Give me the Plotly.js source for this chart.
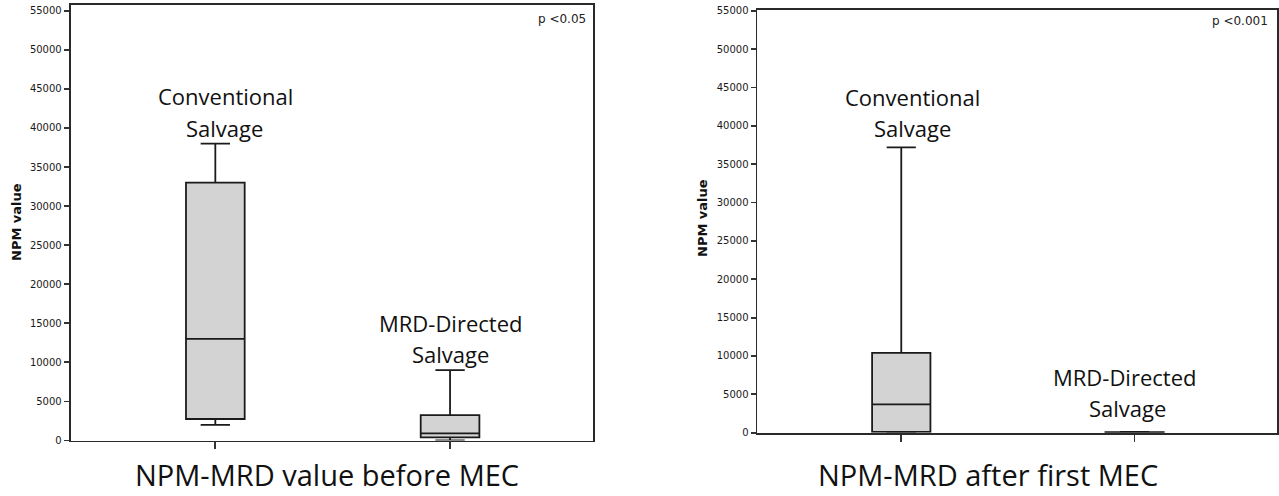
<!DOCTYPE html>
<html>
<head>
<meta charset="utf-8">
<script src="https://cdn.plot.ly/plotly-3.0.1.min.js"></script>
<style>html,body{margin:0;padding:0;background:#fff;}#chart{width:1279px;height:496px;}</style>
</head>
<body>
<div id="chart"></div>
<script>
// ---- data ----
const categories = ['Conventional', 'MRD-Directed'];
const categoryLabelLines = [['Conventional', 'Salvage'], ['MRD-Directed', 'Salvage']];

// Panel 1: NPM-MRD value before MEC
const beforeLowerFence = [2000, 0];
const beforeQ1 = [2750, 400];
const beforeMedian = [13000, 900];
const beforeQ3 = [33000, 3250];
const beforeUpperFence = [38000, 9000];

// Panel 2: NPM-MRD after first MEC
const afterLowerFence = [0, 0];
const afterQ1 = [100, 0];
const afterMedian = [3700, 0];
const afterQ3 = [10400, 80];
const afterUpperFence = [37200, 120];

const panelTitles = ['NPM-MRD value before MEC', 'NPM-MRD after first MEC'];
const pValues = ['p <0.05', 'p <0.001'];
const yTitle = 'NPM value';
const yTickVals = [0, 5000, 10000, 15000, 20000, 25000, 30000, 35000, 40000, 45000, 50000, 55000];

// ---- layout helpers ----
const W = 1279, H = 496;
const px = v => v / W;
const py = v => 1 - v / H;

const boxStyle = {
  type: 'box',
  fillcolor: '#d3d3d3',
  line: {color: '#1a1a1a', width: 1.8},
  width: 0.25,
  whiskerwidth: 0.5,
  boxpoints: false,
  showlegend: false,
  hoverinfo: 'skip'
};

const traces = [
  Object.assign({}, boxStyle, {
    x: categories, q1: beforeQ1, median: beforeMedian, q3: beforeQ3,
    lowerfence: beforeLowerFence, upperfence: beforeUpperFence,
    xaxis: 'x', yaxis: 'y'
  }),
  Object.assign({}, boxStyle, {
    x: categories, q1: afterQ1, median: afterMedian, q3: afterQ3,
    lowerfence: afterLowerFence, upperfence: afterUpperFence,
    xaxis: 'x2', yaxis: 'y2'
  })
];

const xBase = {
  type: 'category',
  range: [-0.617, 1.609],
  showticklabels: false,
  ticks: 'outside', ticklen: 7, tickwidth: 1.8, tickcolor: '#333',
  showline: true, linecolor: '#2a2a2a', linewidth: 1.8, mirror: true,
  showgrid: false, zeroline: false, fixedrange: true
};
const yBase = {
  tickvals: yTickVals,
  ticktext: yTickVals.map(String),
  ticks: 'outside', ticklen: 5, tickwidth: 1.8, tickcolor: '#333',
  tickfont: {family: 'DejaVu Sans', size: 10, color: '#1a1a1a'},
  showline: true, linecolor: '#2a2a2a', linewidth: 1.8, mirror: true,
  showgrid: false, zeroline: false, fixedrange: true
};

const annLabel = (xref, cat, text, ypx, xshift) => ({
  xref: xref, yref: 'paper', x: cat, y: py(ypx), xshift: xshift,
  xanchor: 'center', yanchor: 'middle', showarrow: false, text: text,
  font: {family: 'Open Sans', size: 22, color: '#111'}
});

const annotations = [
  // category labels, panel 1
  annLabel('x', categories[0], categoryLabelLines[0][0], 96, 10),
  annLabel('x', categories[0], categoryLabelLines[0][1], 128, 9),
  annLabel('x', categories[1], categoryLabelLines[1][0], 323, 0),
  annLabel('x', categories[1], categoryLabelLines[1][1], 354, 0),
  // category labels, panel 2
  annLabel('x2', categories[0], categoryLabelLines[0][0], 97, 11),
  annLabel('x2', categories[0], categoryLabelLines[0][1], 128, 11),
  annLabel('x2', categories[1], categoryLabelLines[1][0], 377, -10),
  annLabel('x2', categories[1], categoryLabelLines[1][1], 408, -7),
  // panel titles
  {xref: 'paper', yref: 'paper', x: px(326.5), y: py(474), xanchor: 'center', yanchor: 'middle',
   showarrow: false, text: panelTitles[0], font: {family: 'Open Sans', size: 29, color: '#111'}},
  {xref: 'paper', yref: 'paper', x: px(987.5), y: py(474), xanchor: 'center', yanchor: 'middle',
   showarrow: false, text: panelTitles[1], font: {family: 'Open Sans', size: 29, color: '#111'}},
  // p-values
  {xref: 'paper', yref: 'paper', x: px(588), y: py(19), xanchor: 'right', yanchor: 'middle',
   showarrow: false, text: pValues[0], font: {family: 'DejaVu Sans', size: 12, color: '#222'}},
  {xref: 'paper', yref: 'paper', x: px(1270), y: py(21), xanchor: 'right', yanchor: 'middle',
   showarrow: false, text: pValues[1], font: {family: 'DejaVu Sans', size: 12, color: '#222'}},
  // y-axis titles
  {xref: 'paper', yref: 'paper', x: px(17), y: py(222), xanchor: 'center', yanchor: 'middle',
   textangle: -90, showarrow: false, text: '<b>' + yTitle + '</b>',
   font: {family: 'DejaVu Sans', size: 13, color: '#111'}},
  {xref: 'paper', yref: 'paper', x: px(703), y: py(218), xanchor: 'center', yanchor: 'middle',
   textangle: -90, showarrow: false, text: '<b>' + yTitle + '</b>',
   font: {family: 'DejaVu Sans', size: 13, color: '#111'}}
];

const layout = {
  width: W, height: H,
  margin: {l: 0, r: 0, t: 0, b: 0},
  paper_bgcolor: '#ffffff', plot_bgcolor: '#ffffff',
  showlegend: false,
  xaxis: Object.assign({}, xBase, {domain: [px(70.5), px(593)], anchor: 'y'}),
  yaxis: Object.assign({}, yBase, {domain: [py(440.5), py(5)], range: [0, 55733], anchor: 'x'}),
  xaxis2: Object.assign({}, xBase, {domain: [px(757.3), px(1276.7)], anchor: 'y2'}),
  yaxis2: Object.assign({}, yBase, {domain: [py(432.7), py(10)], range: [0, 55097], anchor: 'x2'}),
  annotations: annotations
};

Plotly.newPlot('chart', traces, layout, {displayModeBar: false, staticPlot: true});
</script>
</body>
</html>
